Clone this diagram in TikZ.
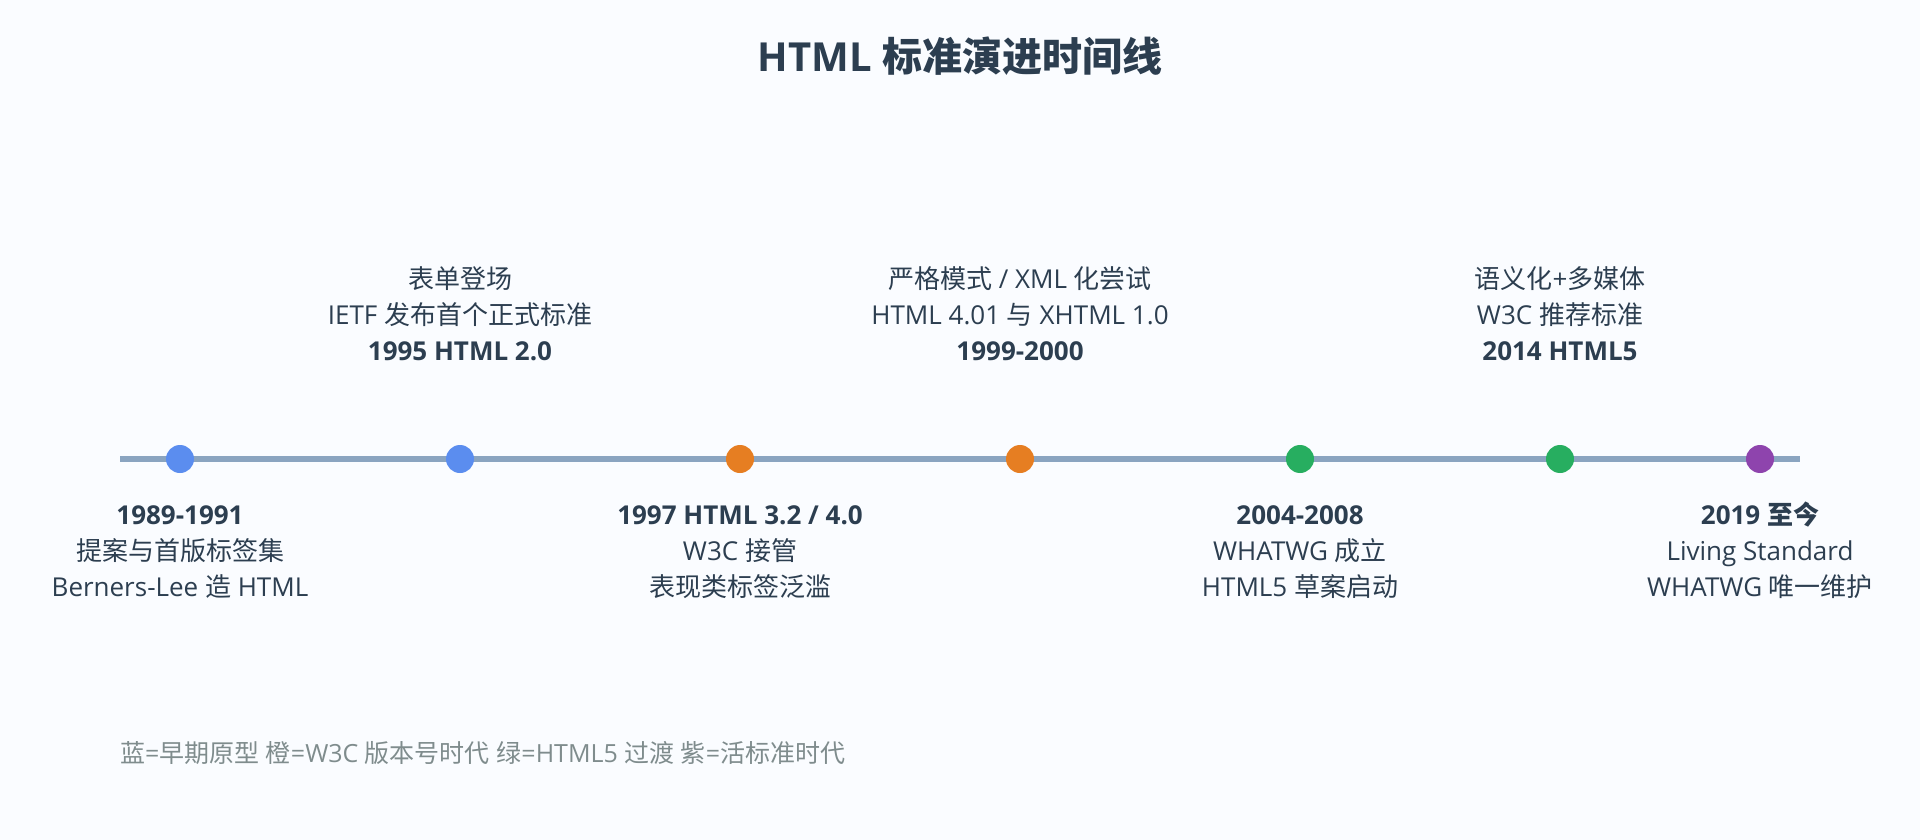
\documentclass[tikz,border=0pt]{standalone}
\usepackage{fontspec}
\setmainfont{Open Sans}
\newfontfamily\zhfont{Noto Sans CJK SC}
\newcommand\zh[1]{{\zhfont#1}}
\definecolor{ink}{HTML}{2C3E50}
\definecolor{axis}{HTML}{8AA4C0}
\definecolor{early}{HTML}{5B8DEF}
\definecolor{wthree}{HTML}{E67E22}
\definecolor{hfive}{HTML}{27AE60}
\definecolor{living}{HTML}{8E44AD}
\definecolor{note}{HTML}{7F8C8D}
\definecolor{bg}{HTML}{FAFCFF}
\begin{document}
\begin{tikzpicture}[x=1pt,y=-1pt,
    every node/.style={inner sep=0pt,anchor=base,text=ink,font=\fontsize{26}{26}\selectfont},
    dot/.style={circle,fill=#1,minimum size=28pt,anchor=center},
    year/.style={font=\fontsize{26}{26}\selectfont\bfseries}]
  \path[use as bounding box,fill=bg] (0,0) rectangle (1920,840);
  \path (960,72) node[font=\fontsize{40}{40}\selectfont\bfseries] (title) {HTML \zh{标准演进时间线}};
  % axis
  \coordinate (start) at (120,459);
  \coordinate (end) at (1800,459);
  \draw[axis,line width=6pt] (start) -- (end);
  \path (180,459)  node[dot=early]  (d89) {}
        (460,459)  node[dot=early]  (d95) {}
        (740,459)  node[dot=wthree] (d97) {}
        (1020,459) node[dot=wthree] (d99) {}
        (1300,459) node[dot=hfive]  (d04) {}
        (1560,459) node[dot=hfive]  (d14) {}
        (1760,459) node[dot=living] (d19) {};
  % above the axis
  \path (460,288) node (u95a) {\zh{表单登场}}
        (460,324) node (u95b) {IETF \zh{发布首个正式标准}}
        (460,360) node[year] (u95c) {1995 HTML 2.0};
  \path (1020,288) node (u99a) {\zh{严格模式} / XML \zh{化尝试}}
        (1020,324) node (u99b) {HTML 4.01 \zh{与} XHTML 1.0}
        (1020,360) node[year] (u99c) {1999-2000};
  \path (1560,288) node (u14a) {\zh{语义化}+\zh{多媒体}}
        (1560,324) node (u14b) {W3C \zh{推荐标准}}
        (1560,360) node[year] (u14c) {2014 HTML5};
  % below the axis
  \path (180,524) node[year] (l89a) {1989-1991}
        (180,560) node (l89b) {\zh{提案与首版标签集}}
        (180,596) node (l89c) {Berners-Lee \zh{造} HTML};
  \path (740,524) node[year] (l97a) {1997 HTML 3.2 / 4.0}
        (740,560) node (l97b) {W3C \zh{接管}}
        (740,596) node (l97c) {\zh{表现类标签泛滥}};
  \path (1300,524) node[year] (l04a) {2004-2008}
        (1300,560) node (l04b) {WHATWG \zh{成立}}
        (1300,596) node (l04c) {HTML5 \zh{草案启动}};
  \path (1760,524) node[year] (l19a) {2019 \zh{至今}}
        (1760,560) node (l19b) {Living Standard}
        (1760,596) node (l19c) {WHATWG \zh{唯一维护}};
  % legend
  \path (120,762) node[anchor=base west,text=note,font=\fontsize{25}{25}\selectfont] (legend)
    {\zh{蓝}=\zh{早期原型} \zh{橙}=W3C \zh{版本号时代} \zh{绿}=HTML5 \zh{过渡} \zh{紫}=\zh{活标准时代}};
\end{tikzpicture}
\end{document}
